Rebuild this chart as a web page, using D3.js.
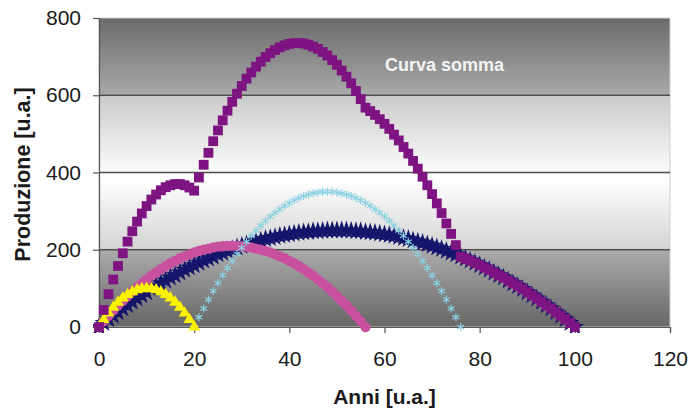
<!DOCTYPE html>
<html>
<head>
<meta charset="utf-8">
<script src="https://cdn.jsdelivr.net/npm/d3@7"></script>
<style>
  html, body { margin: 0; padding: 0; background: #ffffff; }
  svg { display: block; font-family: "Liberation Sans", Arial, Helvetica, sans-serif; }
</style>
</head>
<body>
<svg id="chart" width="692" height="410"></svg>
<script>
// Axis ticks and titles
const xTicks = [0, 20, 40, 60, 80, 100, 120];
const yTicks = [0, 200, 400, 600, 800];
const xTitle = "Anni [u.a.]";
const yTitle = "Produzione [u.a.]";
const sumLabel = "Curva somma";

// Each production curve: first year, then one value per year
const yellowStart = 0;
const yellowValues = [0, 19, 36, 51, 64, 75, 84, 91, 96, 99, 100, 99, 96, 91, 84, 75, 64, 51, 36, 19, 0];

const pinkStart = 0;
const pinkValues = [0, 15, 29, 43, 56, 68, 80, 92, 103, 113, 123, 133, 141, 150, 158, 165, 171, 178, 183, 188,
  193, 197, 200, 203, 206, 208, 209, 210, 210, 210, 209, 208, 206, 203, 200, 197, 193, 188, 183, 178,
  171, 165, 158, 150, 141, 133, 123, 113, 103, 92, 80, 68, 56, 43, 29, 15, 0];

const navyStart = 0;
const navyValues = [0, 10, 20, 29, 38, 48, 56, 65, 74, 82, 90, 98, 106, 113, 120, 128, 134, 141, 148, 154,
  160, 166, 172, 177, 182, 188, 192, 197, 202, 206, 210, 214, 218, 221, 224, 228, 230, 233, 236, 238,
  240, 242, 244, 245, 246, 248, 248, 249, 250, 250, 250, 250, 250, 249, 248, 248, 246, 245, 244, 242,
  240, 238, 236, 233, 230, 228, 224, 221, 218, 214, 210, 206, 202, 197, 192, 188, 182, 177, 172, 166,
  160, 154, 148, 141, 134, 128, 120, 113, 106, 98, 90, 82, 74, 65, 56, 48, 38, 29, 20, 10, 0];

const cyanStart = 20;
const cyanValues = [0, 25, 48, 71, 93, 114, 134, 153, 171, 189, 205, 221, 236, 250, 263, 275, 286, 296, 305, 314,
  321, 328, 334, 339, 343, 346, 348, 350, 350, 350, 348, 346, 343, 339, 334, 328, 321, 314, 305, 296,
  286, 275, 263, 250, 236, 221, 205, 189, 171, 153, 134, 114, 93, 71, 48, 25, 0];

const sumStart = 0;
const sumValues = [0, 44, 85, 123, 158, 191, 221, 248, 273, 294, 313, 330, 343, 354, 362, 367, 370, 370, 367, 361,
  353, 387, 420, 451, 481, 509, 535, 560, 583, 604, 624, 643, 659, 674, 687, 699, 709, 717, 724, 729,
  733, 735, 735, 734, 731, 726, 720, 712, 703, 691, 679, 664, 648, 631, 611, 590, 568, 559, 549, 538,
  526, 513, 498, 483, 466, 449, 430, 410, 389, 367, 344, 320, 295, 268, 241, 212, 182, 177, 172, 166,
  160, 154, 148, 141, 134, 128, 120, 113, 106, 98, 90, 82, 74, 65, 56, 48, 38, 29, 20, 10, 0];

const svg = d3.select("#chart");
const plotLeft = 99, plotRight = 670, plotTop = 18, plotBottom = 327;

const x = d3.scaleLinear().domain([0, 120]).range([plotLeft, plotRight]);
const y = d3.scaleLinear().domain([0, 800]).range([plotBottom, plotTop]);

// Banded grey background: dark at top and bottom, white in the middle
const defs = svg.append("defs");
const grad = defs.append("linearGradient")
  .attr("id", "plotBg").attr("x1", 0).attr("y1", 0).attr("x2", 0).attr("y2", 1);
[
  [0.00, "#6b6b6b"], [0.245, "#a8a8a8"], [0.255, "#cbcbcb"], [0.50, "#fcfcfc"],
  [0.52, "#ffffff"], [0.745, "#d4d4d4"], [0.755, "#aaaaaa"], [1.00, "#666666"]
].forEach(([o, c]) => grad.append("stop").attr("offset", o).attr("stop-color", c));

svg.append("rect")
  .attr("x", plotLeft).attr("y", plotTop)
  .attr("width", plotRight - plotLeft).attr("height", plotBottom - plotTop)
  .attr("fill", "url(#plotBg)")
  .attr("stroke", "#cfcfcf").attr("stroke-width", 1);

// Horizontal gridlines
svg.append("g").selectAll("line")
  .data(yTicks.filter(d => d > 0 && d < 800))
  .join("line")
  .attr("x1", plotLeft).attr("x2", plotRight)
  .attr("y1", d => y(d)).attr("y2", d => y(d))
  .attr("stroke", "#4e4e4e").attr("stroke-width", 1.6);

// Axes
const yAxis = d3.axisLeft(y).tickValues(yTicks).tickSize(6).tickPadding(12).tickFormat(d3.format("d"));
const xAxis = d3.axisBottom(x).tickValues(xTicks).tickSize(6).tickPadding(18).tickFormat(d3.format("d"));

const gy = svg.append("g").attr("transform", `translate(${plotLeft},0)`).call(yAxis);
const gx = svg.append("g").attr("transform", `translate(0,${plotBottom})`).call(xAxis);
[gx, gy].forEach(g => {
  g.select(".domain").attr("stroke", "#555555").attr("stroke-width", 1.2);
  g.selectAll(".tick line").attr("stroke", "#555555").attr("stroke-width", 1.2);
  g.selectAll(".tick text")
    .attr("fill", "#1a1a1a")
    .style("font-size", "21px")
    .style("font-family", "'Liberation Sans', Arial, sans-serif");
});
gy.selectAll(".tick text").attr("x", -18);

// Axis titles
svg.append("text")
  .attr("x", (plotLeft + plotRight) / 2).attr("y", 404)
  .attr("text-anchor", "middle")
  .style("font-size", "21px").style("font-weight", "bold").attr("fill", "#1a1a1a")
  .text(xTitle);

svg.append("text")
  .attr("transform", `translate(30,${(plotTop + plotBottom) / 2 + 2}) rotate(-90)`)
  .attr("text-anchor", "middle")
  .style("font-size", "21.5px").style("font-weight", "bold").attr("fill", "#1a1a1a")
  .text(yTitle);

// Marker series
function points(start, values) {
  return values.map((v, i) => ({ year: start + i, value: v }));
}

const clip = defs.append("clipPath").attr("id", "plotClip");
clip.append("rect").attr("x", plotLeft - 6).attr("y", plotTop - 6)
  .attr("width", plotRight - plotLeft + 12).attr("height", plotBottom - plotTop + 12);

const plot = svg.append("g").attr("clip-path", "url(#plotClip)");

const asterisk = d3.symbolAsterisk || d3.symbolCross;

const series = [
  { data: points(navyStart, navyValues), type: d3.symbolStar, size: 70, fill: "#16166c", stroke: "#16166c", sw: 1.2 },
  { data: points(pinkStart, pinkValues), type: d3.symbolCircle, size: 84, fill: "#c9509f", stroke: "none", sw: 0 },
  { data: points(cyanStart, cyanValues), type: asterisk, size: 44, fill: "none", stroke: "#8ad2e2", sw: 1.2 },
  { data: points(yellowStart, yellowValues), type: d3.symbolTriangle, size: 62, fill: "#fbf200", stroke: "none", sw: 0 },
  { data: points(sumStart, sumValues), type: d3.symbolSquare, size: 96, fill: "#7d1481", stroke: "none", sw: 0 }
];

series.forEach(s => {
  const sym = d3.symbol().type(s.type).size(s.size);
  plot.append("g").selectAll("path")
    .data(s.data)
    .join("path")
    .attr("transform", d => `translate(${x(d.year)},${y(d.value)})`)
    .attr("d", sym)
    .attr("fill", s.fill)
    .attr("stroke", s.stroke)
    .attr("stroke-width", s.sw);
});

// Label for the summed curve
svg.append("text")
  .attr("x", 385).attr("y", 71)
  .style("font-size", "18px").style("font-weight", "bold")
  .attr("fill", "#f4f4f4")
  .text(sumLabel);
</script>
</body>
</html>
